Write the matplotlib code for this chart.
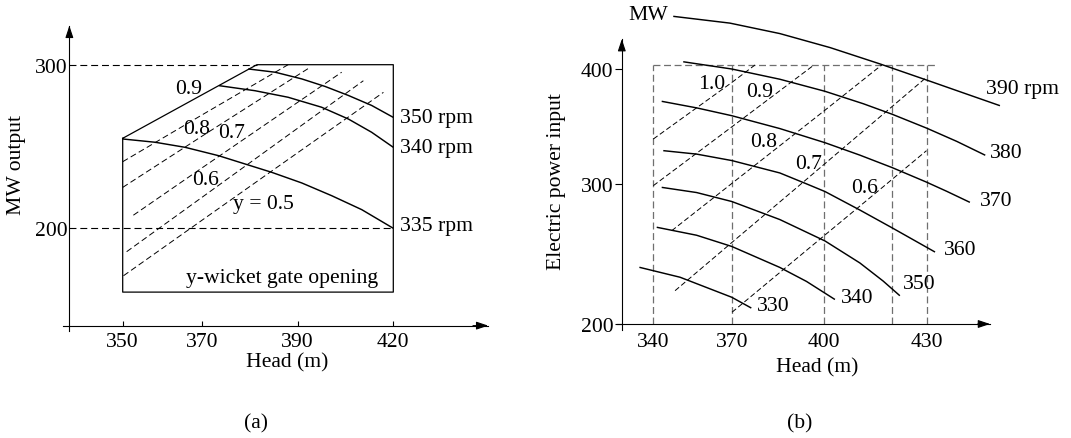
import numpy as np
import matplotlib
matplotlib.use("Agg")
import matplotlib.pyplot as plt

plt.rcParams["font.family"] = ["Liberation Serif", "DejaVu Serif"]
plt.rcParams["font.size"] = 15.6
plt.rcParams["lines.scale_dashes"] = False

W, H = 1071, 439

# ---------------- (a) turbine: MW output vs head ----------------
a_head_ticks = [350, 370, 390, 420]
a_mw_ticks = [200, 300]

# operating envelope (gate 0.9 edge, 300 MW cap, 420 m head limit, bottom)
a_env_head = [350, 370, 381.5, 420, 420, 350, 350]
a_env_mw = [255, 281.5, 300, 300, 161, 161, 255]

a_rpm_labels = ["350 rpm", "340 rpm", "335 rpm"]
a_rpm_head = [
    [379.7, 385.3, 391.3, 398.6, 405.9, 413.2, 420],
    [373.6, 381.1, 388.0, 397.5, 405.9, 413.2, 420],
    [350, 358.2, 365.8, 373.5, 379.7, 384.6, 391.3, 400.7, 410.1, 420],
]
a_rpm_mw = [
    [297.4, 295.4, 291.3, 286.7, 281.2, 275.1, 267.8],
    [287.2, 284.1, 280.1, 274.0, 266.8, 258.7, 249.5],
    [254.6, 252.6, 249.5, 244.4, 238.7, 234.2, 227.7, 219.9, 211.4, 200],
]

# constant wicket-gate opening lines
a_gate_head = [
    [350, 370, 388],
    [350, 370, 390, 393.9],
    [352.7, 370, 390, 403.8],
    [351, 370, 390, 410.6],
    [350.2, 370, 390, 416.9],
]
a_gate_mw = [
    [240.7, 269.2, 300],
    [225, 256.2, 293.6, 298.4],
    [208, 236.8, 277, 295.4],
    [185.7, 218.8, 261.2, 290.2],
    [171, 204.8, 246.2, 283.1],
]
a_gate_text = ["0.9", "0.8", "0.7", "0.6", "y = 0.5"]
a_gate_text_at = [(366.6, 285.6), (368.7, 261.1), (376.3, 258.7), (370.9, 230.1), (382.8, 214.9)]

# ---------------- (b) pump: electric power input vs head ----------------
b_head_ticks = [340, 370, 400, 430]
b_mw_ticks = [200, 300, 400]
b_grid_heads = [340, 370, 400, 420, 430]
b_grid_top = 403.7
b_grid_right = 433

b_rpm_labels = ["390 rpm", "380", "370", "360", "350", "340", "330"]
b_rpm_head = [
    [347.6, 369.2, 385.6, 401.8, 416.4, 431.0, 440.8, 451.5],
    [351.4, 369.9, 385.6, 400.3, 411.5, 420.0, 430.1, 438.9, 447.2],
    [343.2, 356.5, 369.9, 385.6, 400.3, 410.5, 420.0, 430.1, 431.2, 435.9, 442.7],
    [343.8, 356.5, 369.9, 385.6, 394.4, 400.3, 410.5, 420.0, 432.5],
    [343.2, 356.5, 369.9, 385.6, 400.3, 410.5, 417.3, 422.2],
    [341.3, 356.5, 369.9, 385.6, 394.3, 403.2],
    [334.7, 350.2, 369.9, 376.3],
]
b_rpm_mw = [
    [445.8, 439.9, 430.8, 418.6, 404.4, 389.4, 379.2, 368.1],
    [406.3, 400.0, 391.1, 380.6, 369.8, 360.6, 348.5, 337.0, 325.0],
    [371.9, 366.2, 359.4, 348.2, 335.9, 325.1, 314.2, 301.5, 300.0, 294.8, 286.9],
    [329.0, 326.0, 320.4, 309.6, 300.0, 294.6, 281.4, 268.6, 251.4],
    [297.6, 293.9, 287.5, 274.6, 259.3, 243.6, 230.7, 220.2],
    [269.1, 263.4, 255.4, 240.4, 230.4, 217.5],
    [240.5, 233.4, 219.1, 211.4],
]
b_rpm_text_at = [(447.4, 383.2), (448.6, 327.6), (445.7, 288.1), (435.2, 252.9),
                 (423.1, 228.6), (405, 218.6), (378.1, 213.1)]

b_gate_head = [
    [340, 370, 377.5],
    [340, 370, 396.5],
    [347, 370, 400, 416.9],
    [348.3, 370, 392.5, 400, 430],
    [370, 400, 418.3, 430],
]
b_gate_mw = [
    [339.1, 388.4, 403.5],
    [298.8, 349.8, 403],
    [266.6, 300.6, 363.5, 403.5],
    [223.8, 258.3, 300, 317, 392.8],
    [208.4, 263, 300, 329],
]
b_gate_text = ["1.0", "0.9", "0.8", "0.7", "0.6"]
b_gate_text_at = [(362.3, 387.8), (379.1, 380.6), (380.2, 337.1), (394.9, 317.4), (411.9, 297.6)]


def ruler_scale(vals, pix):
    """Piecewise-linear axis: each labelled tick sits at its own spot on the ruler."""
    v, p = np.asarray(vals, float), np.asarray(pix, float)
    s0 = (p[1] - p[0]) / (v[1] - v[0])
    s1 = (p[-1] - p[-2]) / (v[-1] - v[-2])
    V = np.concatenate([[v[0] - 1e3], v, [v[-1] + 1e3]])
    P = np.concatenate([[p[0] - 1e3 * s0], p, [p[-1] + 1e3 * s1]])
    return (lambda x: np.interp(x, V, P)), (lambda y: np.interp(y, P, V))


fig = plt.figure(figsize=(W / 100, H / 100), dpi=100)


def make_axes(left_px, right_px, xruler, yruler):
    ax = fig.add_axes([left_px / W, 0, (right_px - left_px) / W, 1])
    fx, ix = ruler_scale(*xruler)
    fy, iy = ruler_scale(*yruler)
    ax.set_xscale("function", functions=(fx, ix))
    ax.set_yscale("function", functions=(fy, iy))
    ax.patch.set_visible(False)
    ax.spines[["top", "right"]].set_visible(False)
    for s in ("left", "bottom"):
        ax.spines[s].set_linewidth(0.8)
    return ax, (ix(left_px), ix(right_px)), (iy(0), iy(H))


def arrow_tip(ax, start, tip):
    ax.annotate("", xy=tip, xytext=start, annotation_clip=False,
                arrowprops=dict(arrowstyle="-|>,head_length=0.6,head_width=0.2",
                                mutation_scale=12, color="black", lw=0.8,
                                shrinkA=0, shrinkB=0))


CURVE_LW = 1.05

# ---- panel (a)
axA, xlA, ylA = make_axes(0, 535.5,
                          ([350, 370, 390, 420], [122.7, 201.7, 297.7, 393.3]),
                          ([200, 300], [209.7, 373.3]))
a_xaxis_at, a_yaxis_at = 140.5, 336.5
axA.spines["bottom"].set_position(("data", a_xaxis_at))
axA.spines["bottom"].set_bounds(335, 449.8)
axA.spines["left"].set_position(("data", a_yaxis_at))
axA.spines["left"].set_bounds(137.2, 323.8)
arrow_tip(axA, (445, a_xaxis_at), (449.8, a_xaxis_at))
arrow_tip(axA, (a_yaxis_at, 318), (a_yaxis_at, 323.8))

axA.plot([a_yaxis_at, 381.5], [300, 300], color="black", lw=0.8, dashes=(5, 2.8))
axA.plot([a_yaxis_at, 420], [200, 200], color="black", lw=0.8, dashes=(5, 2.8))
axA.plot(a_env_head, a_env_mw, color="black", lw=0.9)

for hx, my, lab in zip(a_rpm_head, a_rpm_mw, a_rpm_labels):
    axA.plot(hx, my, color="black", lw=CURVE_LW, solid_capstyle="butt",
             solid_joinstyle="round")
    dy = 2 if lab == "335 rpm" else 0
    axA.annotate(lab, xy=(hx[-1], my[-1]), xytext=(5, dy), textcoords="offset points",
                 ha="left", va="center", annotation_clip=False)

for hx, my in zip(a_gate_head, a_gate_mw):
    axA.plot(hx, my, color="black", lw=0.7, dashes=(4.3, 2.4))
for lab, (hx, my) in zip(a_gate_text, a_gate_text_at):
    axA.text(hx, my, lab, ha="center", va="center")
axA.text(386.7, 170, "y-wicket gate opening", ha="center", va="center")

axA.set_xticks(a_head_ticks)
axA.set_yticks(a_mw_ticks)
axA.tick_params(axis="x", direction="in", length=3.6, width=0.8, pad=4.5)
axA.tick_params(axis="y", length=0, pad=1.0)
axA.set_xlim(*xlA)
axA.set_ylim(*ylA)

# ---- panel (b)
axB, xlB, ylB = make_axes(535.5, W,
                          ([340, 370, 400, 430], [653.3, 732, 824, 926.5]),
                          ([200, 300, 400], [114, 254, 369]))
b_xaxis_at, b_yaxis_at = 200, 328
axB.spines["bottom"].set_position(("data", b_xaxis_at))
axB.spines["bottom"].set_bounds(326.3, 448.6)
axB.spines["left"].set_position(("data", b_yaxis_at))
axB.spines["left"].set_bounds(196, 426)
arrow_tip(axB, (445, b_xaxis_at), (448.6, b_xaxis_at))
arrow_tip(axB, (b_yaxis_at, 420), (b_yaxis_at, 426))

grid_style = dict(color="#6f6f6f", lw=0.9, dashes=(5, 2.6))
axB.plot([b_grid_heads[0], b_grid_right], [b_grid_top, b_grid_top], **grid_style)
for hx in b_grid_heads:
    axB.plot([hx, hx], [b_xaxis_at, b_grid_top], **grid_style)

for hx, my in zip(b_gate_head, b_gate_mw):
    axB.plot(hx, my, color="black", lw=0.7, dashes=(3.8, 2.0))
for lab, (hx, my) in zip(b_gate_text, b_gate_text_at):
    axB.text(hx, my, lab, ha="center", va="center")

for hx, my in zip(b_rpm_head, b_rpm_mw):
    axB.plot(hx, my, color="black", lw=CURVE_LW, solid_capstyle="butt",
             solid_joinstyle="round")
for lab, (hx, my) in zip(b_rpm_labels, b_rpm_text_at):
    axB.text(hx, my, lab, ha="left", va="center")
axB.text(345.5, 447.8, "MW", ha="right", va="center")

axB.set_xticks(b_head_ticks)
axB.set_yticks(b_mw_ticks)
axB.tick_params(axis="x", length=0, pad=5.5)
axB.tick_params(axis="y", direction="out", length=5, width=0.8, pad=1.0)
axB.set_xlim(*xlB)
axB.set_ylim(*ylB)

# axis titles and panel letters
def ftext(px, py, s, **kw):
    fig.text(px / W, 1 - py / H, s, ha="center", va="center", **kw)

ftext(16.7, 165, "MW output", rotation=90)
ftext(556.8, 181.7, "Electric power input", rotation=90)
ftext(286.7, 363.3, "Head (m)")
ftext(816.7, 368.3, "Head (m)")
ftext(256, 424, "(a)")
ftext(800, 424, "(b)")

fig.savefig("out.png", dpi=100)
